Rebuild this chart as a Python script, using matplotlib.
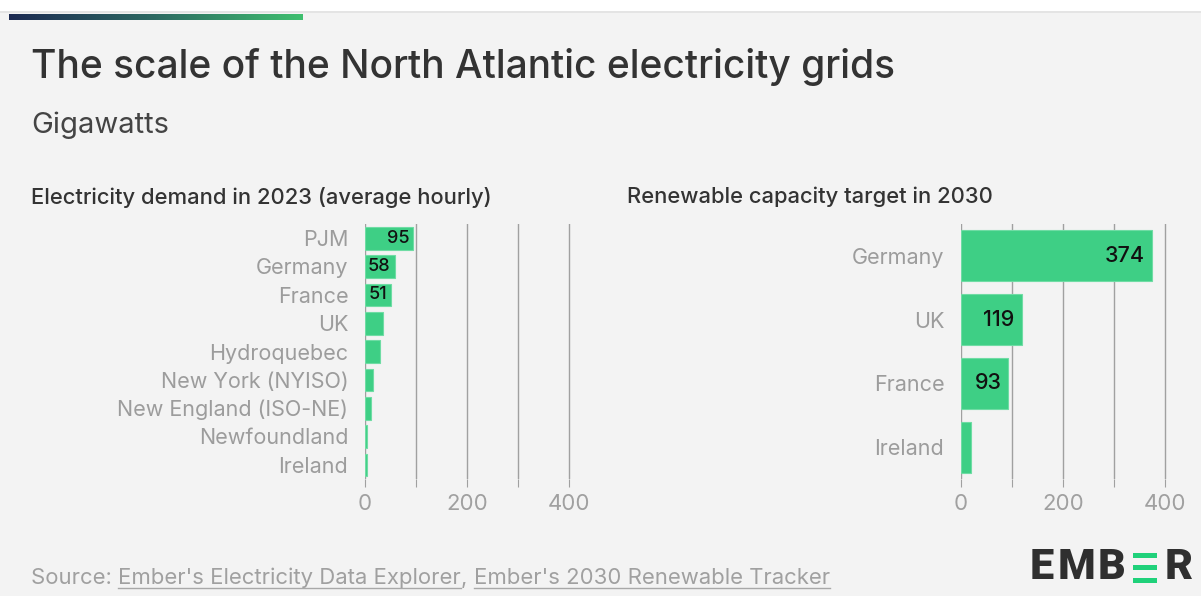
import numpy as np
import matplotlib
matplotlib.use("Agg")
import matplotlib.pyplot as plt
from matplotlib.patches import Rectangle

# data
demand_names = ["PJM", "Germany", "France", "UK", "Hydroquebec", "New York (NYISO)",
                "New England (ISO-NE)", "Newfoundland", "Ireland"]
demand_vals = [95, 58, 51, 35, 29, 15, 12, 3, 3]
demand_shown = [True, True, True, False, False, False, False, False, False]

target_names = ["Germany", "UK", "France", "Ireland"]
target_vals = [374, 119, 93, 19]
target_shown = [True, True, True, False]

ticks = [0, 100, 200, 300, 400]
tick_labels = ["0", "", "200", "", "400"]

W, H = 1201, 596
BG = "#f3f3f3"
GREEN = "#3ecf85"
plt.rcParams["font.family"] = ["Inter", "DejaVu Sans"]


def fx(px):
    return px / W


def fy(py):
    return 1 - py / H


fig = plt.figure(figsize=(W / 100, H / 100), dpi=100, facecolor=BG)

# white strip on top with thin line
fig.patches.append(Rectangle((0, fy(11)), 1, 11 / H, transform=fig.transFigure,
                             facecolor="white", edgecolor="none", zorder=0))
fig.patches.append(Rectangle((0, fy(12.5)), 1, 1.5 / H, transform=fig.transFigure,
                             facecolor="#e4e4e4", edgecolor="none", zorder=0))

# gradient accent bar
gax = fig.add_axes([fx(9), fy(20), fx(294), 6 / H])
grad = np.linspace(0, 1, 256).reshape(1, -1)
cmap = matplotlib.colors.LinearSegmentedColormap.from_list("g", ["#1c2a52", "#2d6a62", "#3fbf6f"])
gax.imshow(grad, aspect="auto", cmap=cmap)
gax.axis("off")

fig.text(fx(31), fy(67), "The scale of the North Atlantic electricity grids",
         fontsize=28, color="#333333", fontweight="medium", va="center", ha="left")
fig.text(fx(31), fy(125), "Gigawatts", fontsize=21, color="#444444", va="center", ha="left")
fig.text(fx(31), fy(197), "Electricity demand in 2023 (average hourly)",
         fontsize=15.8, color="#333333", fontweight="medium", va="center", ha="left")
fig.text(fx(627), fy(197), "Renewable capacity target in 2030",
         fontsize=15.8, color="#333333", fontweight="medium", va="center", ha="left")


def panel(x0, names, vals, shown, vsize, pad):
    ax = fig.add_axes([fx(x0), fy(479), fx(206), 255 / H])
    ax.set_facecolor(BG)
    y = np.arange(len(names))
    ax.barh(y, vals, height=0.8, color=GREEN, edgecolor="#6fdca4", linewidth=0.8, zorder=2)
    for i, v in enumerate(vals):
        if shown[i]:
            ax.annotate(str(v), (v, i), xytext=(-pad, 0), textcoords="offset pixels",
                        ha="right", va="center", fontsize=vsize, color="#111111",
                        fontweight="medium", zorder=3)
    ax.set_xlim(0, 404)
    ax.set_ylim(len(names) - 0.5, -0.5)
    ax.set_xticks(ticks)
    ax.set_xticklabels(tick_labels)
    ax.set_yticks(y)
    ax.set_yticklabels(names)
    ax.grid(axis="x", color="#a0a0a0", linewidth=1, zorder=1)
    for s in ax.spines.values():
        s.set_visible(False)
    ax.tick_params(axis="x", length=6, color="#a0a0a0", labelsize=16, labelcolor="#a0a0a0", pad=5)
    ax.tick_params(axis="y", length=0, labelsize=15.5, labelcolor="#9c9c9c", pad=12)
    return ax


panel(365, demand_names, demand_vals, demand_shown, 13, 4)
panel(961, target_names, target_vals, target_shown, 15.5, 7)

# source line with underlined links
fig.canvas.draw()
r = fig.canvas.get_renderer()
parts = [("Source: ", False), ("Ember's Electricity Data Explorer", True), (", ", False),
         ("Ember's 2030 Renewable Tracker", True)]
xpos = 31
for txt, link in parts:
    t = fig.text(fx(xpos), fy(578), txt, fontsize=15.9, color="#a0a0a0", va="center", ha="left")
    bb = t.get_window_extent(renderer=r)
    if link:
        fig.lines.append(matplotlib.lines.Line2D([fx(xpos), fx(xpos + bb.width)], [fy(588), fy(588)],
                                                 transform=fig.transFigure, color="#a8a8a8", lw=1))
    xpos += bb.width

# logo
for ch, cx in [("E", 1041.5), ("M", 1076), ("B", 1111.5), ("R", 1178.5)]:
    fig.text(fx(cx), fy(567.5), ch, fontsize=31, fontweight="heavy", color="#2f2f2f",
             ha="center", va="center", family="Roboto", fontstretch="condensed")
for y0, y1 in [(552.5, 557.5), (565, 570), (577.5, 582.5)]:
    fig.patches.append(Rectangle((fx(1133), fy(y1)), fx(24), (y1 - y0) / H,
                                 transform=fig.transFigure, facecolor="#1fd17a", edgecolor="none"))

fig.savefig("out.png", dpi=100, facecolor=BG)
